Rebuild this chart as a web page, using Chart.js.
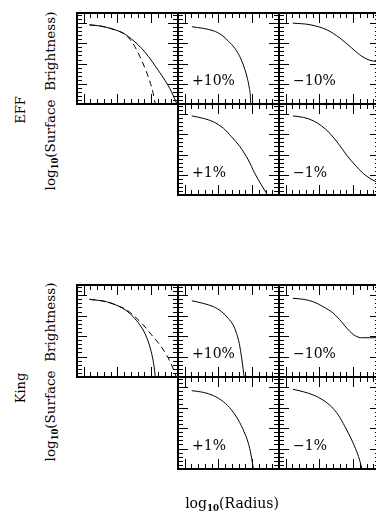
<!DOCTYPE html>
<html>
<head>
<meta charset="utf-8">
<script src="https://cdn.jsdelivr.net/npm/chart.js@4.4.1/dist/chart.umd.min.js"></script>
<style>
html, body { margin: 0; padding: 0; background: #fff; overflow: hidden; }
#wrap { position: relative; width: 376px; height: 519px; overflow: hidden; font-family: "DejaVu Serif", serif; color: #000; }
#wrap canvas { position: absolute; }
.lbl { position: absolute; white-space: nowrap; font-size: 13.5px; line-height: 1; }
.rot { transform: translate(-50%, -50%) rotate(-90deg); }
.pct { position: absolute; white-space: nowrap; font-size: 14px; line-height: 14px; }
sub { font-size: 0.62em; vertical-align: -0.3em; line-height: 0; font-weight: bold; }
</style>
</head>
<body>
<div id="wrap"></div>
<script>
// log10(radius) / log10(surface brightness)
// EFF profiles
const effR        = [0.17, 0.48, 0.79, 1.03, 1.23, 1.42, 1.62, 1.82, 2.02, 2.21, 2.41, 2.61, 2.76, 2.80];
const effSB       = [-0.09, -0.14, -0.26, -0.39, -0.55, -0.79, -1.08, -1.44, -1.87, -2.33, -2.82, -3.40, -3.97, -4.10];
const effDashR    = [0.17, 0.48, 0.79, 1.03, 1.18, 1.37, 1.52, 1.67, 1.82, 1.95, 2.05, 2.12];
const effDashSB   = [-0.09, -0.14, -0.26, -0.40, -0.50, -0.80, -1.17, -1.66, -2.23, -2.81, -3.39, -3.95];
const effP10R     = [0.21, 0.55, 0.85, 1.10, 1.29, 1.49, 1.64, 1.76, 1.86, 1.92, 1.95, 1.96];
const effP10SB    = [-0.18, -0.26, -0.38, -0.59, -0.88, -1.25, -1.67, -2.17, -2.73, -3.23, -3.64, -4.05];
const effM10R     = [0.21, 0.72, 1.22, 1.61, 1.96, 2.26, 2.50, 2.68, 2.80];
const effM10SB    = [0.00, -0.08, -0.33, -0.74, -1.23, -1.64, -1.84, -1.89, -1.92];
const effP1R      = [0.21, 0.55, 0.85, 1.15, 1.39, 1.64, 1.89, 2.08, 2.28, 2.43, 2.50];
const effP1SB     = [-0.09, -0.21, -0.38, -0.70, -1.12, -1.61, -2.27, -2.93, -3.51, -3.92, -4.10];
const effM1R      = [0.21, 0.52, 0.82, 1.07, 1.31, 1.56, 1.81, 2.06, 2.30, 2.50, 2.68, 2.80];
const effM1SB     = [-0.09, -0.16, -0.33, -0.59, -0.95, -1.45, -2.03, -2.52, -2.93, -3.18, -3.34, -3.42];

// King profiles
const kingR       = [0.17, 0.68, 1.03, 1.28, 1.47, 1.67, 1.82, 1.95, 2.04, 2.09, 2.12, 2.13];
const kingSB      = [-0.20, -0.32, -0.53, -0.77, -1.06, -1.46, -1.88, -2.44, -3.02, -3.50, -3.91, -4.05];
const kingDashR   = [0.17, 0.68, 1.03, 1.28, 1.52, 1.77, 2.02, 2.27, 2.46, 2.61, 2.71, 2.76];
const kingDashSB  = [-0.20, -0.32, -0.53, -0.72, -1.05, -1.46, -1.95, -2.44, -2.92, -3.41, -3.82, -4.05];
const kingP10R    = [0.21, 0.55, 0.85, 1.10, 1.29, 1.44, 1.54, 1.62, 1.67, 1.72, 1.75, 1.77];
const kingP10SB   = [-0.27, -0.40, -0.56, -0.81, -1.13, -1.46, -1.87, -2.36, -2.85, -3.41, -3.82, -4.05];
const kingM10R    = [0.21, 0.52, 0.82, 1.11, 1.41, 1.66, 1.86, 2.06, 2.26, 2.50, 2.80];
const kingM10SB   = [-0.15, -0.20, -0.32, -0.56, -0.88, -1.30, -1.70, -1.98, -2.08, -2.08, -2.08];
const kingP1R     = [0.21, 0.55, 0.85, 1.15, 1.39, 1.59, 1.76, 1.89, 1.97, 2.02, 2.05];
const kingP1SB    = [-0.17, -0.25, -0.41, -0.71, -1.11, -1.60, -2.17, -2.74, -3.31, -3.80, -4.05];
const kingM1R     = [0.21, 0.52, 0.82, 1.11, 1.36, 1.56, 1.76, 1.96, 2.11, 2.21, 2.27];
const kingM1SB    = [-0.10, -0.22, -0.38, -0.63, -0.96, -1.36, -1.93, -2.58, -3.16, -3.65, -4.05];

const xRange = [-0.2, 2.8];
const yRange = [-4, 0.5];
const tickStep = 0.2;   // minor ticks, every 5th is major

const wrap = document.getElementById('wrap');

// inward ticks on all four sides + heavy frame
const framePlugin = {
    id: 'frame',
    afterDraw(chart) {
        const { ctx, chartArea: a, scales: { x, y } } = chart;
        ctx.save();
        ctx.strokeStyle = '#000';
        ctx.lineWidth = 1;
        ctx.beginPath();
        for (let k = -1; k <= 14; k++) {
            const px = Math.round(x.getPixelForValue(k * tickStep)) + 0.5;
            if (px <= a.left + 1 || px >= a.right - 1) continue;
            const len = k % 5 === 0 ? 10 : 5;
            ctx.moveTo(px, a.bottom); ctx.lineTo(px, a.bottom - len);
            ctx.moveTo(px, a.top); ctx.lineTo(px, a.top + len);
        }
        for (let k = -20; k <= 2; k++) {
            const py = Math.round(y.getPixelForValue(k * tickStep)) + 0.5;
            if (py <= a.top + 1 || py >= a.bottom - 1) continue;
            const len = k % 5 === 0 ? 10 : 5;
            ctx.moveTo(a.left, py); ctx.lineTo(a.left + len, py);
            ctx.moveTo(a.right, py); ctx.lineTo(a.right - len, py);
        }
        ctx.stroke();
        ctx.lineWidth = 2;
        ctx.strokeRect(a.left, a.top, a.width, a.height);
        ctx.restore();
    }
};

function panel(left, top, w, h, curves) {
    const pad = 4;
    const cv = document.createElement('canvas');
    cv.width = w + 2 * pad;
    cv.height = h + 2 * pad;
    cv.style.left = (left - pad) + 'px';
    cv.style.top = (top - pad) + 'px';
    wrap.appendChild(cv);

    new Chart(cv, {
        type: 'line',
        data: {
            datasets: curves.map(c => ({
                data: c.r.map((v, i) => ({ x: v, y: c.sb[i] })),
                borderColor: '#000',
                borderWidth: 1,
                borderDash: c.dash ? [6, 4] : [],
                pointRadius: 0,
                cubicInterpolationMode: 'monotone',
                fill: false
            }))
        },
        options: {
            responsive: false,
            animation: false,
            events: [],
            layout: { padding: pad },
            plugins: { legend: { display: false }, tooltip: { enabled: false } },
            scales: {
                x: { type: 'linear', min: xRange[0], max: xRange[1], display: false },
                y: { type: 'linear', min: yRange[0], max: yRange[1], display: false }
            }
        },
        plugins: [framePlugin]
    });
}

function label(html, cls, css) {
    const d = document.createElement('div');
    d.className = cls;
    d.innerHTML = html;
    Object.assign(d.style, css);
    wrap.appendChild(d);
}

// EFF block
panel(77, 13, 101, 91, [{ r: effR, sb: effSB }, { r: effDashR, sb: effDashSB, dash: true }]);
panel(178, 13, 101, 91, [{ r: effP10R, sb: effP10SB }]);
panel(279, 13, 101, 91, [{ r: effM10R, sb: effM10SB }]);
panel(178, 104, 101, 91, [{ r: effP1R, sb: effP1SB }]);
panel(279, 104, 101, 91, [{ r: effM1R, sb: effM1SB }]);

// King block
panel(77, 285, 101, 92, [{ r: kingR, sb: kingSB }, { r: kingDashR, sb: kingDashSB, dash: true }]);
panel(178, 285, 101, 92, [{ r: kingP10R, sb: kingP10SB }]);
panel(279, 285, 101, 92, [{ r: kingM10R, sb: kingM10SB }]);
panel(178, 377, 101, 92, [{ r: kingP1R, sb: kingP1SB }]);
panel(279, 377, 101, 92, [{ r: kingM1R, sb: kingM1SB }]);

// texts
const yTitle = 'log<sub>10</sub>(Surface&nbsp; Brightness)';
label('EFF', 'lbl rot', { left: '20px', top: '110px', fontSize: '13px' });
label(yTitle, 'lbl rot', { left: '51px', top: '101px' });
label('King', 'lbl rot', { left: '20px', top: '388px', fontSize: '13px' });
label(yTitle, 'lbl rot', { left: '51px', top: '372px' });
label('log<sub>10</sub>(Radius)', 'lbl', { left: '232px', top: '503px', transform: 'translate(-50%, -50%)', fontSize: '14px' });

label('+10%', 'pct', { left: '192px', top: '73px' });
label('\u221210%', 'pct', { left: '293px', top: '73px' });
label('+1%', 'pct', { left: '192px', top: '165px' });
label('\u22121%', 'pct', { left: '293px', top: '165px' });
label('+10%', 'pct', { left: '192px', top: '346px' });
label('\u221210%', 'pct', { left: '293px', top: '346px' });
label('+1%', 'pct', { left: '192px', top: '438px' });
label('\u22121%', 'pct', { left: '293px', top: '438px' });
</script>
</body>
</html>
